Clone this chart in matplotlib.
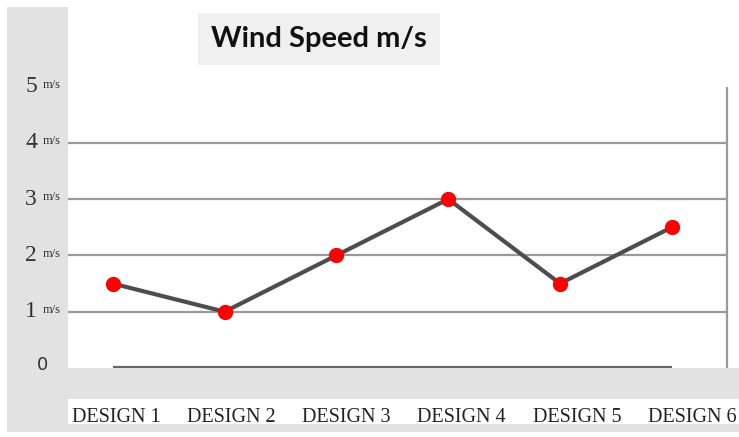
import matplotlib.pyplot as plt
from matplotlib.patches import Rectangle
from matplotlib.transforms import blended_transform_factory

# data
designs = ["DESIGN 1", "DESIGN 2", "DESIGN 3", "DESIGN 4", "DESIGN 5", "DESIGN 6"]
wind_speed = [1.5, 1.0, 2.0, 3.0, 1.5, 2.5]
y_ticks = [0, 1, 2, 3, 4, 5]

W, H = 739, 437
fig = plt.figure(figsize=(W / 100, H / 100), dpi=100)
fig.patch.set_facecolor("white")

# background layer: grey frame and white label strip
bg = fig.add_axes([0, 0, 1, 1], zorder=0)
bg.set_xlim(0, W)
bg.set_ylim(H, 0)
bg.axis("off")
bg.add_patch(Rectangle((7, 7), W - 7, H - 12, facecolor="#e2e2e2", edgecolor="none"))
bg.add_patch(Rectangle((68, 399), W - 68, 25, facecolor="white", edgecolor="none"))

ax = fig.add_axes([68 / W, (H - 368) / H, (W - 68) / W, 361 / H], zorder=1)
ax.set_facecolor("white")
for s in ax.spines.values():
    s.set_visible(False)

x = list(range(len(designs)))
ax.set_xlim(-0.40, 5.60)
ax.set_ylim(0, 361 / 56.3)

# gridlines
for v in y_ticks[1:5]:
    ax.hlines(v, -0.40, 5.49, color="#9a9a9a", lw=1.6, zorder=1)
ax.vlines(5.49, 0, 5, color="#9a9a9a", lw=1.6, zorder=1)
ax.hlines(0.02, x[0], x[-1], color="#666666", lw=1.6, zorder=1)

ax.plot(x, wind_speed, color="#4d4d4d", lw=3, zorder=2)
ax.plot(x, wind_speed, "o", color="#ff0000", markersize=10, zorder=3)

# category labels sit a little wider apart than the points
ax.set_xticks([i * 1.03 + 0.03 for i in x])
ax.set_xticklabels(designs, fontfamily="Liberation Serif", fontsize=14.5,
                   color="#222222")
ax.tick_params(axis="x", length=0, pad=29)
ax.set_yticks([])

# y labels in the grey column
tr = blended_transform_factory(fig.transFigure, ax.transData)
for v in y_ticks:
    if v == 0:
        ax.text(42 / W, v + 0.05, "0", transform=tr, fontsize=13, color="#333333",
                ha="center", va="center", family="DejaVu Sans")
    else:
        ax.text(31 / W, v, str(v), transform=tr, fontsize=17, color="#333333",
                ha="center", va="center", family="Liberation Serif")
        ax.text(43 / W, v + 0.03, "m/s", transform=tr, fontsize=9, color="#333333",
                ha="left", va="center", family="Liberation Serif")

# title
ax.text(319 / W, (H - 39) / H, "Wind Speed m/s", transform=fig.transFigure,
        fontsize=21, fontweight="bold", family="Lato", ha="center",
        va="center", color="#111111", zorder=5,
        bbox=dict(boxstyle="square,pad=0.45", facecolor="#f0f0f0", edgecolor="none"))

fig.savefig("out.png", dpi=100)
